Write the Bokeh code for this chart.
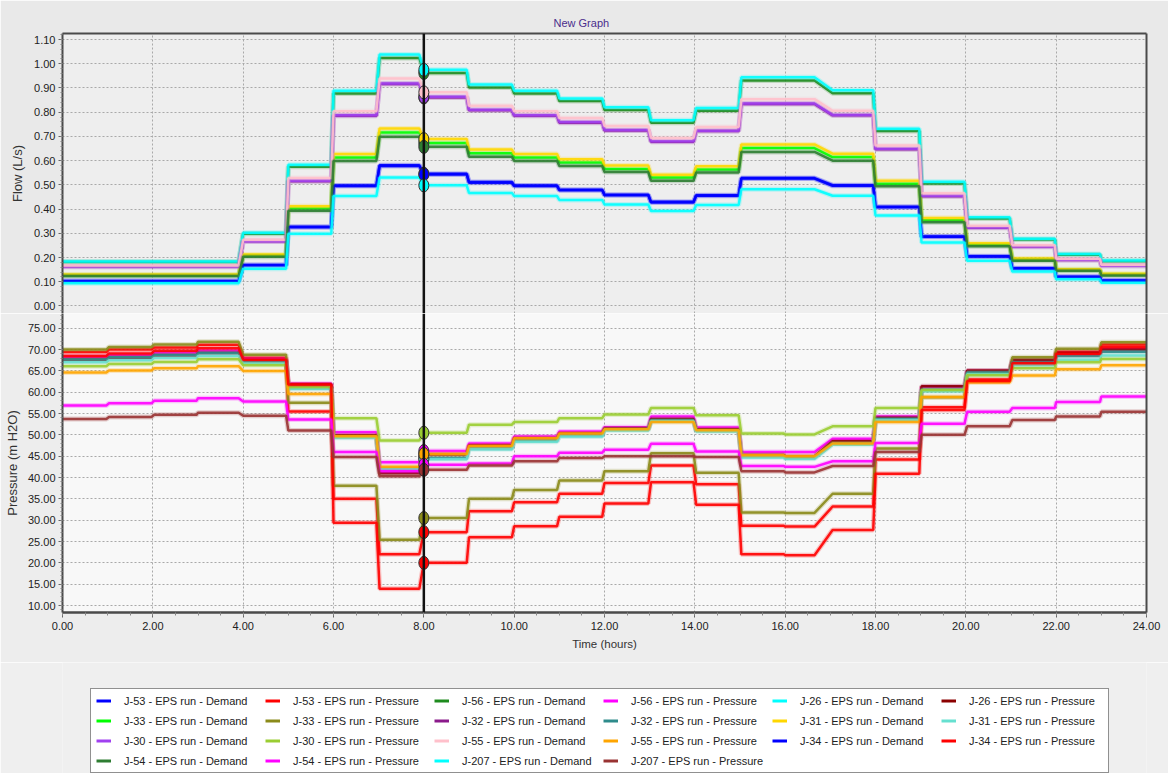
from bokeh.plotting import figure
from bokeh.models import (Span, Legend, LegendItem, LinearAxis, SingleIntervalTicker,
                          FixedTicker, NumeralTickFormatter, Range1d, ColumnDataSource)
from bokeh.layouts import column
from bokeh.embed import file_html
from bokeh.resources import INLINE

# ---------------- data ----------------
# start / end time (hours) of each reporting segment
seg_begin = [0.0, 1.03, 2.03, 3.0, 4.0, 5.0, 6.0, 7.02, 8.0, 9.0, 10.0, 11.0,
             12.0, 13.03, 14.03, 15.03, 16.0, 17.05, 18.0, 19.02, 20.03, 21.03, 22.0, 23.0]
seg_end = [0.97, 1.97, 2.97, 3.9, 4.95, 5.95, 6.95, 7.9, 8.95, 9.95, 10.95, 11.95,
           12.97, 13.97, 14.97, 15.97, 16.65, 17.95, 18.97, 19.97, 20.97, 21.97, 22.97, 24.0]
cursor_time = 8.0
cursor_index = 8

# Demand (L/s)
j53_demand = [0.103, 0.103, 0.103, 0.103, 0.169, 0.327, 0.497, 0.581, 0.546, 0.512, 0.497, 0.480,
              0.459, 0.430, 0.457, 0.528, 0.528, 0.499, 0.410, 0.287, 0.205, 0.156, 0.121, 0.105]
j56_demand = [0.1815, 0.1815, 0.1815, 0.1815, 0.298, 0.575, 0.877, 1.024, 0.962, 0.902, 0.877, 0.846,
              0.809, 0.757, 0.806, 0.931, 0.931, 0.878, 0.722, 0.506, 0.361, 0.274, 0.212, 0.185]
j26_demand = [0.184, 0.184, 0.184, 0.184, 0.302, 0.583, 0.889, 1.038, 0.975, 0.914, 0.889, 0.857,
              0.821, 0.767, 0.817, 0.944, 0.944, 0.891, 0.732, 0.513, 0.366, 0.278, 0.215, 0.188]
j33_demand = [0.127, 0.127, 0.127, 0.127, 0.208, 0.403, 0.613, 0.716, 0.673, 0.631, 0.613, 0.592,
              0.566, 0.530, 0.564, 0.652, 0.652, 0.615, 0.505, 0.354, 0.253, 0.192, 0.149, 0.130]
j32_demand = [0.1625, 0.1625, 0.1625, 0.1625, 0.267, 0.515, 0.785, 0.917, 0.861, 0.808, 0.785, 0.757,
              0.725, 0.678, 0.722, 0.834, 0.834, 0.787, 0.647, 0.453, 0.323, 0.245, 0.190, 0.166]
j31_demand = [0.130, 0.130, 0.130, 0.130, 0.213, 0.412, 0.628, 0.733, 0.689, 0.646, 0.628, 0.606,
              0.580, 0.542, 0.577, 0.667, 0.667, 0.629, 0.517, 0.363, 0.259, 0.196, 0.152, 0.133]
j30_demand = [0.163, 0.163, 0.163, 0.163, 0.267, 0.517, 0.787, 0.919, 0.864, 0.810, 0.787, 0.760,
              0.727, 0.680, 0.724, 0.836, 0.836, 0.789, 0.649, 0.455, 0.324, 0.246, 0.191, 0.166]
j55_demand = [0.167, 0.167, 0.167, 0.167, 0.273, 0.528, 0.804, 0.939, 0.882, 0.827, 0.804, 0.776,
              0.743, 0.694, 0.739, 0.854, 0.854, 0.806, 0.663, 0.465, 0.331, 0.251, 0.195, 0.170]
j34_demand = [0.102, 0.102, 0.102, 0.102, 0.168, 0.325, 0.495, 0.578, 0.543, 0.509, 0.495, 0.478,
              0.457, 0.427, 0.455, 0.526, 0.526, 0.496, 0.408, 0.286, 0.204, 0.155, 0.120, 0.104]
j54_demand = [0.124, 0.124, 0.124, 0.124, 0.203, 0.393, 0.599, 0.699, 0.657, 0.616, 0.599, 0.578,
              0.553, 0.517, 0.551, 0.636, 0.636, 0.600, 0.494, 0.346, 0.247, 0.187, 0.145, 0.126]
j207_demand = [0.094, 0.094, 0.094, 0.094, 0.154, 0.298, 0.454, 0.530, 0.498, 0.467, 0.454, 0.438,
               0.419, 0.392, 0.417, 0.482, 0.482, 0.455, 0.374, 0.262, 0.187, 0.142, 0.110, 0.096]

# Pressure (m H2O)
j53_pressure = [69.4, 70.0, 70.5, 71.1, 68.1, 55.5, 35.0, 22.0, 27.2, 32.1, 34.2, 36.2,
                38.7, 42.8, 38.4, 28.7, 28.5, 33.2, 44.2, 56.5, 63.0, 67.0, 69.5, 71.2]
j56_pressure = [68.3, 68.8, 69.3, 69.8, 67.8, 62.0, 50.6, 43.6, 46.2, 48.0, 49.6, 50.8,
                51.8, 54.3, 51.7, 46.0, 46.0, 49.1, 54.3, 61.2, 65.0, 67.4, 69.0, 70.2]
j26_pressure = [67.6, 68.1, 68.6, 69.2, 67.5, 61.8, 49.9, 41.0, 45.4, 47.5, 49.2, 50.3,
                51.5, 53.7, 51.3, 45.3, 45.0, 48.5, 54.0, 61.4, 65.1, 67.6, 69.2, 70.0]
j33_pressure = [70.0, 70.6, 71.2, 71.8, 68.8, 57.5, 38.1, 25.4, 30.5, 35.0, 37.1, 39.3,
                41.5, 45.7, 41.1, 31.8, 31.7, 36.2, 46.8, 58.8, 64.5, 68.2, 70.2, 71.7]
j32_pressure = [67.7, 68.2, 68.7, 69.2, 67.2, 61.0, 49.5, 42.2, 44.6, 46.8, 48.6, 49.8,
                51.3, 53.4, 51.0, 45.0, 44.6, 48.0, 53.7, 60.6, 64.6, 67.0, 68.5, 69.5]
j31_pressure = [67.0, 67.5, 68.0, 68.5, 66.7, 60.8, 49.3, 42.0, 44.3, 46.6, 48.4, 49.6,
                51.0, 53.2, 50.8, 44.7, 44.4, 47.7, 53.5, 60.2, 64.2, 66.3, 67.6, 68.6]
j30_pressure = [66.1, 66.6, 67.1, 67.7, 66.3, 61.2, 53.9, 48.7, 50.5, 52.4, 53.0, 53.9,
                54.8, 56.3, 54.6, 50.3, 50.1, 52.0, 56.3, 60.5, 64.0, 65.6, 67.0, 67.8]
j55_pressure = [64.6, 65.1, 65.6, 66.1, 65.0, 59.6, 49.7, 42.5, 45.5, 47.4, 49.2, 50.3,
                51.3, 53.0, 51.1, 45.2, 45.0, 48.0, 53.0, 58.9, 62.3, 63.9, 65.4, 66.3]
j34_pressure = [68.5, 69.1, 69.7, 70.3, 67.6, 61.8, 29.4, 13.9, 20.0, 26.0, 28.6, 30.8,
                33.9, 38.9, 33.6, 22.0, 21.8, 27.7, 40.9, 55.8, 62.6, 66.8, 69.0, 70.6]
j54_pressure = [56.9, 57.4, 58.0, 58.6, 57.8, 53.6, 46.0, 41.5, 43.0, 43.3, 45.0, 45.8,
                46.5, 47.9, 46.1, 42.7, 42.5, 43.8, 48.1, 52.6, 55.4, 56.3, 57.7, 59.0]
j207_pressure = [53.7, 54.2, 54.7, 55.2, 54.5, 51.0, 44.8, 40.3, 41.8, 42.8, 43.8, 44.6,
                 45.0, 45.0, 44.8, 41.5, 41.2, 42.7, 46.0, 50.0, 52.0, 53.5, 54.3, 55.4]

# series in legend order: (label, values, colour, panel)
series = [
    ("J-53 - EPS run - Demand", j53_demand, "#0000FF", "flow"),
    ("J-53 - EPS run - Pressure", j53_pressure, "#FF0000", "pressure"),
    ("J-56 - EPS run - Demand", j56_demand, "#1E8B1E", "flow"),
    ("J-56 - EPS run - Pressure", j56_pressure, "#FF00FF", "pressure"),
    ("J-26 - EPS run - Demand", j26_demand, "#00FFFF", "flow"),
    ("J-26 - EPS run - Pressure", j26_pressure, "#8B0000", "pressure"),
    ("J-33 - EPS run - Demand", j33_demand, "#00FF00", "flow"),
    ("J-33 - EPS run - Pressure", j33_pressure, "#8B8B1A", "pressure"),
    ("J-32 - EPS run - Demand", j32_demand, "#8B1A8B", "flow"),
    ("J-32 - EPS run - Pressure", j32_pressure, "#2E8B8B", "pressure"),
    ("J-31 - EPS run - Demand", j31_demand, "#FFD700", "flow"),
    ("J-31 - EPS run - Pressure", j31_pressure, "#66E0D0", "pressure"),
    ("J-30 - EPS run - Demand", j30_demand, "#A040F0", "flow"),
    ("J-30 - EPS run - Pressure", j30_pressure, "#9ACD32", "pressure"),
    ("J-55 - EPS run - Demand", j55_demand, "#FFC0CB", "flow"),
    ("J-55 - EPS run - Pressure", j55_pressure, "#FFA500", "pressure"),
    ("J-34 - EPS run - Demand", j34_demand, "#0000FF", "flow"),
    ("J-34 - EPS run - Pressure", j34_pressure, "#FF0000", "pressure"),
    ("J-54 - EPS run - Demand", j54_demand, "#2E7D32", "flow"),
    ("J-54 - EPS run - Pressure", j54_pressure, "#FF00FF", "pressure"),
    ("J-207 - EPS run - Demand", j207_demand, "#00FFFF", "flow"),
    ("J-207 - EPS run - Pressure", j207_pressure, "#993333", "pressure"),
]

FONT = "Liberation Sans"
FIG_W = 1168
BORDER_L = 62
BORDER_R = 22

def step_xy(vals):
    xs, ys = [], []
    for b, e, v in zip(seg_begin, seg_end, vals):
        xs += [b, e]
        ys += [v, v]
    return xs, ys

def style_axis(ax):
    ax.major_label_text_font = FONT
    ax.major_label_text_font_size = "11px"
    ax.major_label_text_color = "#222222"
    ax.axis_line_color = "#4a4a4a"
    ax.axis_line_width = 2
    ax.major_tick_line_color = "#666666"
    ax.minor_tick_line_color = "#888888"
    ax.major_tick_in = 0
    ax.major_tick_out = 4
    ax.minor_tick_in = 0
    ax.minor_tick_out = 2
    ax.major_label_standoff = 3
    ax.axis_label_text_font = FONT
    ax.axis_label_text_font_style = "normal"
    ax.axis_label_text_color = "#333333"

def border_axis():
    return LinearAxis(ticker=FixedTicker(ticks=[]), axis_line_color="#4a4a4a",
                      axis_line_width=2, major_tick_line_color=None,
                      minor_tick_line_color=None, major_tick_out=0, major_label_standoff=0)

def style_grid(p):
    for g in (p.xgrid, p.ygrid):
        g.grid_line_color = "#a9a9a9"
        g.grid_line_dash = "2 2"
        g.grid_line_width = 1

x_ticker = SingleIntervalTicker(interval=2, num_minor_ticks=4)

# ---------------- flow panel ----------------
p1 = figure(width=FIG_W, height=313, x_range=Range1d(0, 24), y_range=Range1d(-0.031, 1.125),
            output_backend="svg", toolbar_location=None, title="New Graph",
            min_border_left=BORDER_L, min_border_right=BORDER_R, min_border_top=33,
            min_border_bottom=0,
            background_fill_color="#eeeeee", border_fill_color="#e9e9e9",
            outline_line_color=None)
p1.title.align = "left"
p1.title.offset = 491
p1.title.text_font = FONT
p1.title.text_font_size = "11px"
p1.title.text_font_style = "normal"
p1.title.text_color = "#4a2d8c"
p1.title.standoff = 10
p1.xaxis.visible = False
p1.xaxis.ticker = x_ticker
p1.yaxis.ticker = SingleIntervalTicker(interval=0.1, num_minor_ticks=5)
p1.yaxis.formatter = NumeralTickFormatter(format="0.00")
p1.yaxis.axis_label = "Flow (L/s)"
style_axis(p1.yaxis[0])
p1.yaxis.axis_label_text_font_size = "13px"
p1.yaxis.axis_label_standoff = 6
style_grid(p1)
p1.add_layout(border_axis(), "above")
p1.add_layout(border_axis(), "right")

# ---------------- pressure panel ----------------
p2 = figure(width=FIG_W, height=349, x_range=p1.x_range, y_range=Range1d(8.36, 78.45),
            output_backend="svg", toolbar_location=None,
            min_border_left=BORDER_L, min_border_right=BORDER_R, min_border_top=0,
            min_border_bottom=50,
            background_fill_color="#f8f8f8", border_fill_color="#ededed",
            outline_line_color=None)
p2.xaxis.ticker = x_ticker
p2.xaxis.formatter = NumeralTickFormatter(format="0.00")
p2.xaxis.axis_label = "Time (hours)"
p2.yaxis.ticker = SingleIntervalTicker(interval=5, num_minor_ticks=5)
p2.yaxis.formatter = NumeralTickFormatter(format="0.00")
p2.yaxis.axis_label = "Pressure (m H2O)"
style_axis(p2.yaxis[0])
style_axis(p2.xaxis[0])
p2.xaxis.axis_line_width = 2.5
p2.xaxis.major_tick_out = 5
p2.xaxis.minor_tick_out = 3
p2.xaxis.major_label_standoff = 4
p2.xaxis.axis_label_text_font_size = "11.5px"
p2.xaxis.axis_label_standoff = 5
p2.yaxis.axis_label_text_font_size = "13px"
p2.yaxis.axis_label_standoff = 5
style_grid(p2)
p2.add_layout(border_axis(), "right")

# ---------------- legend strip (own plot; its y range lies outside all data) ----------------
p3 = figure(width=FIG_W, height=111, x_range=p1.x_range, y_range=Range1d(-2, -1),
            output_backend="svg", toolbar_location=None,
            x_axis_location=None, y_axis_location=None,
            min_border_left=0, min_border_right=0, min_border_top=0, min_border_bottom=0,
            background_fill_color="#efefef", border_fill_color="#efefef",
            outline_line_color=None)
p3.grid.visible = False

# ---------------- series ----------------
legend_items = []
for label, vals, color, panel in series:
    p = p1 if panel == "flow" else p2
    xs, ys = step_xy(vals)
    p.line(xs, ys, line_color=color, line_width=5, line_alpha=0.22)
    p.line(xs, ys, line_color=color, line_width=2.5, line_alpha=0.9)
    proxy = p3.line(xs, ys, line_color=color, line_width=3)
    legend_items.append(LegendItem(label=label, renderers=[proxy]))

# cursor
for p in (p1, p2):
    p.add_layout(Span(location=cursor_time, dimension="height", line_color="#111111",
                      line_width=2.5))

for p, panel in ((p1, "flow"), (p2, "pressure")):
    sel = [s for s in series if s[3] == panel]
    src = ColumnDataSource(dict(x=[cursor_time] * len(sel),
                                y=[s[1][cursor_index] for s in sel],
                                c=[s[2] for s in sel]))
    p.ellipse(x="x", y="y", width=10, height=13, width_units="screen", height_units="screen",
              fill_color="c", line_color="#333333", line_width=1, source=src)

legend = Legend(items=legend_items, orientation="horizontal", ncols=6, location=(28, 0))
legend.label_text_font = FONT
legend.label_text_font_size = "11px"
legend.label_text_color = "#222222"
legend.glyph_width = 15
legend.glyph_height = 13
legend.label_height = 13
legend.label_width = 134
legend.spacing = 7
legend.label_standoff = 13
legend.padding = 5
legend.margin = 0
legend.border_line_color = "#222222"
legend.border_line_width = 1
legend.background_fill_color = "#ffffff"
legend.background_fill_alpha = 1.0
p3.add_layout(legend)

layout = column(p1, p2, p3, spacing=0)
open("out.html", "w").write(file_html(layout, INLINE))
